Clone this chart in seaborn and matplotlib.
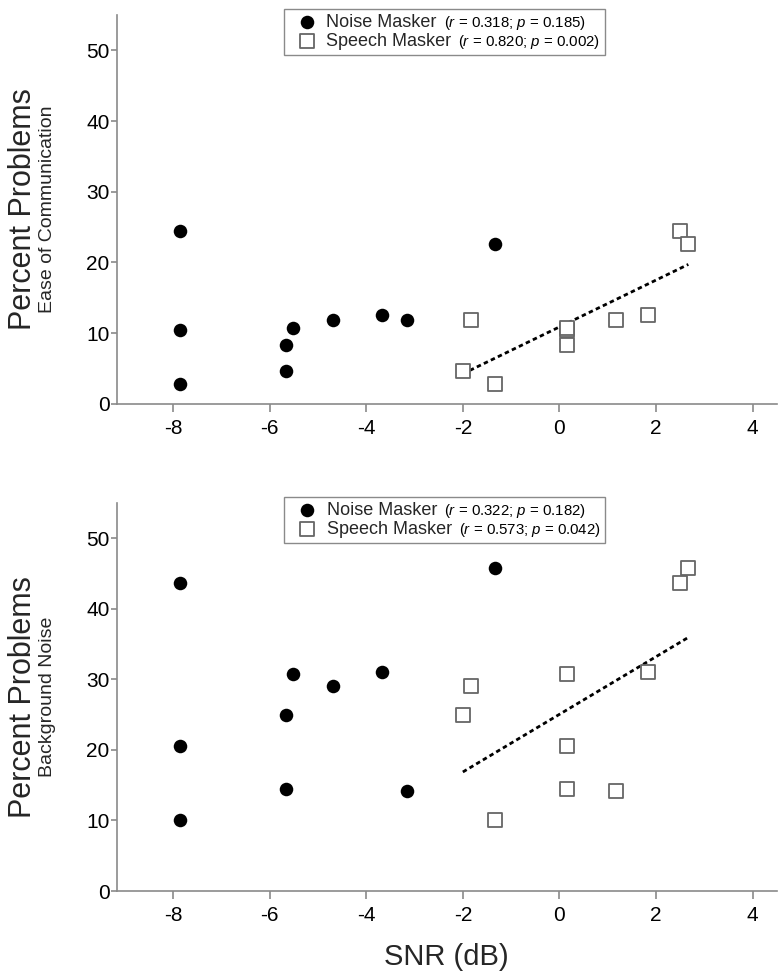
import matplotlib
matplotlib.use("Agg")
import matplotlib.pyplot as plt
import seaborn as sns
import pandas as pd
from matplotlib.offsetbox import TextArea, HPacker

# SNR (dB) per listener
snr_noise = [-7.86, -7.86, -7.86, -5.67, -5.67, -5.51, -4.68, -3.67, -3.16, -1.34]
snr_speech = [2.50, 0.16, -1.34, -2.00, 0.16, 0.16, -1.84, 1.84, 1.17, 2.67]

# percent problems, same listener order for both maskers
ease_comm = [24.5, 10.4, 2.8, 4.6, 8.3, 10.8, 11.9, 12.6, 11.9, 22.6]
back_noise = [43.7, 20.6, 10.1, 24.9, 14.4, 30.7, 29.1, 31.1, 14.2, 45.8]

panel_names = ["Ease of Communication", "Background Noise"]
stats_noise = ["($r$ = 0.318; $p$ = 0.185)", "($r$ = 0.322; $p$ = 0.182)"]
stats_speech = ["($r$ = 0.820; $p$ = 0.002)", "($r$ = 0.573; $p$ = 0.042)"]
x_ticks = [-8, -6, -4, -2, 0, 2, 4]
y_ticks = [0, 10, 20, 30, 40, 50]

sns.set_style("ticks")
plt.rcParams["font.family"] = ["Liberation Sans", "DejaVu Sans"]
plt.rcParams["mathtext.fontset"] = "custom"
plt.rcParams["mathtext.rm"] = "Liberation Sans"
plt.rcParams["mathtext.it"] = "Liberation Sans:italic"
plt.rcParams["axes.unicode_minus"] = False

spine_col = "#8a8a8a"

fig = plt.figure(figsize=(7.82, 9.8), dpi=100)
ax_top = fig.add_axes([0.1492, 0.5878, 0.844, 0.397])
ax_bot = fig.add_axes([0.1492, 0.0908, 0.844, 0.396])

for i, (ax, yvals) in enumerate(zip([ax_top, ax_bot], [ease_comm, back_noise])):
    df_n = pd.DataFrame({"snr": snr_noise, "pct": yvals})
    df_s = pd.DataFrame({"snr": snr_speech, "pct": yvals})

    sns.regplot(data=df_s, x="snr", y="pct", ax=ax, scatter=False, ci=None,
                truncate=True, color="black",
                line_kws=dict(linestyle=(0, (1.6, 1.2)), linewidth=2.0))
    sns.scatterplot(data=df_n, x="snr", y="pct", ax=ax, marker="o", s=95,
                    color="black", edgecolor="black", linewidth=0,
                    label="Noise Masker", zorder=3)
    sns.scatterplot(data=df_s, x="snr", y="pct", ax=ax, marker="s", s=95,
                    facecolor="white", edgecolor="#666666", linewidth=1.3,
                    label="Speech Masker", zorder=3)

    ax.set_xlim(-9.17, 4.5)
    ax.set_ylim(0, 55)
    ax.set_xticks(x_ticks)
    ax.set_yticks(y_ticks)
    ax.set_xlabel("")
    ax.set_ylabel("")
    sns.despine(ax=ax)
    for side in ["left", "bottom"]:
        ax.spines[side].set_color(spine_col)
        ax.spines[side].set_linewidth(1.2)
    ax.tick_params(axis="both", colors=spine_col, labelcolor="black",
                   labelsize=15, width=1.2)
    ax.tick_params(axis="y", length=4, pad=1)
    ax.tick_params(axis="x", length=5.5, pad=5)

    ax.text(-0.142, 0.5, "Percent Problems", rotation=90, ha="center",
            va="center", fontsize=22, transform=ax.transAxes)
    ax.text(-0.105, 0.5, panel_names[i], rotation=90, ha="center",
            va="center", fontsize=14, transform=ax.transAxes)

    leg = ax.legend(loc="upper right", bbox_to_anchor=(0.74, 1.015),
                    borderaxespad=0, fontsize=13, frameon=True, fancybox=False,
                    framealpha=1, edgecolor=spine_col, handlelength=2.0,
                    handletextpad=0.1, borderpad=0.25, labelspacing=0.06)
    leg.get_frame().set_linewidth(1.0)
    rows = leg._legend_handle_box.get_children()[0].get_children()
    for row, stat in zip(rows, [stats_noise[i], stats_speech[i]]):
        extra = TextArea(stat, textprops=dict(fontsize=10.8, color="black"))
        pack = HPacker(children=[row.get_children()[1], extra], align="baseline",
                       pad=0, sep=5)
        pack.set_figure(fig)
        row._children[1] = pack

ax_bot.set_xlabel("SNR (dB)", fontsize=21, labelpad=13)

fig.savefig("out.png", dpi=100)
